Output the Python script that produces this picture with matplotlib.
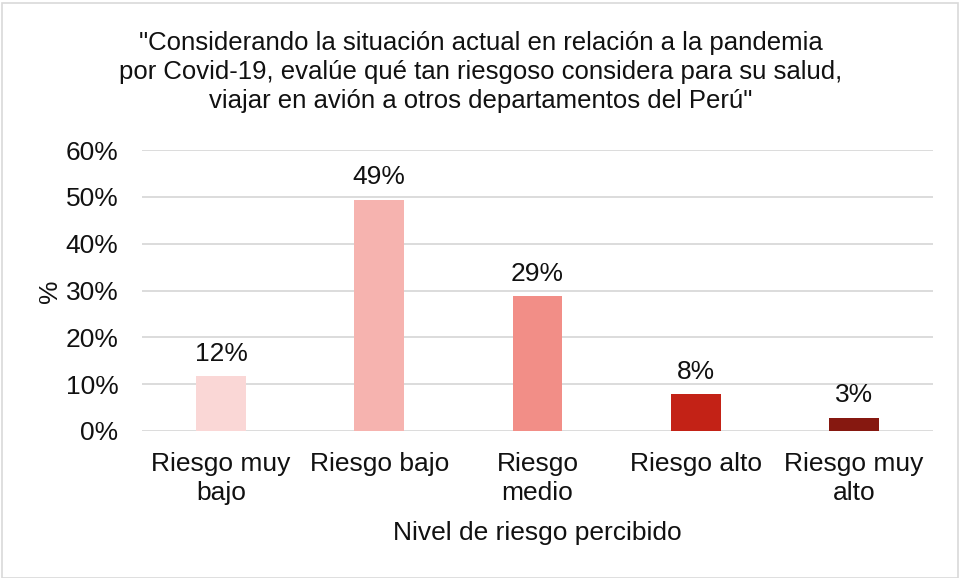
import matplotlib
matplotlib.use("Agg")
import matplotlib.pyplot as plt
from matplotlib.patches import Rectangle

plt.rcParams['font.family'] = ['Liberation Sans', 'DejaVu Sans']

categories = ["Riesgo muy\nbajo", "Riesgo bajo", "Riesgo\nmedio", "Riesgo alto", "Riesgo muy\nalto"]
values = [11.7, 49.4, 28.8, 7.9, 2.8]
labels = ["12%", "49%", "29%", "8%", "3%"]
colors = ["#FAD7D6", "#F6B3AF", "#F28E87", "#C32216", "#861810"]
yticks = [0, 10, 20, 30, 40, 50, 60]
ytick_labels = ["0%", "10%", "20%", "30%", "40%", "50%", "60%"]
title = ('"Considerando la situación actual en relación a la pandemia\n'
         'por Covid-19, evalúe qué tan riesgoso considera para su salud,\n'
         'viajar en avión a otros departamentos del Perú"')

FS = 19
TXT = "#111111"
W, H = 961, 578
fig = plt.figure(figsize=(W/100, H/100), dpi=100)
ax = fig.add_axes([142/W, 1-431/H, (933-142)/W, (431-150)/H])

x = list(range(len(categories)))
ax.bar(x, values, width=0.316, color=colors, zorder=3)
for xi, v, lab in zip(x, values, labels):
    ax.annotate(lab, (xi, v), xytext=(0, 7.5), textcoords="offset points",
                ha="center", va="bottom", fontsize=FS, color=TXT)

ax.set_xlim(-0.5, len(categories)-0.5)
ax.set_ylim(0, 60)
ax.set_yticks(yticks)
ax.set_yticklabels(ytick_labels, fontsize=FS, color=TXT)
ax.set_xticks(x)
ax.set_xticklabels(categories, fontsize=FS, color=TXT, linespacing=1.28)
ax.tick_params(axis='x', length=0, pad=15)
ax.tick_params(axis='y', length=0, pad=17)
ax.grid(axis='y', color="#d9d9d9", linewidth=1.3, zorder=0)
for s in ax.spines.values():
    s.set_visible(False)

fig.text(537/W, 1-533/H, "Nivel de riesgo percibido", ha="center", va="center",
         fontsize=FS, color=TXT)
fig.text(50/W, 1-291/H, "%", ha="center", va="center", rotation=90,
         fontsize=FS, color=TXT)

fig.text(481/W, 1-72/H, title, ha="center", va="center", fontsize=18.5,
         color=TXT, linespacing=1.25)

fig.patches.append(Rectangle((2/W, 0), (W-5)/W, 1-3/H, transform=fig.transFigure,
                             fill=False, edgecolor="#d9d9d9", linewidth=1.2))

fig.savefig("out.png", dpi=100, facecolor="white")
